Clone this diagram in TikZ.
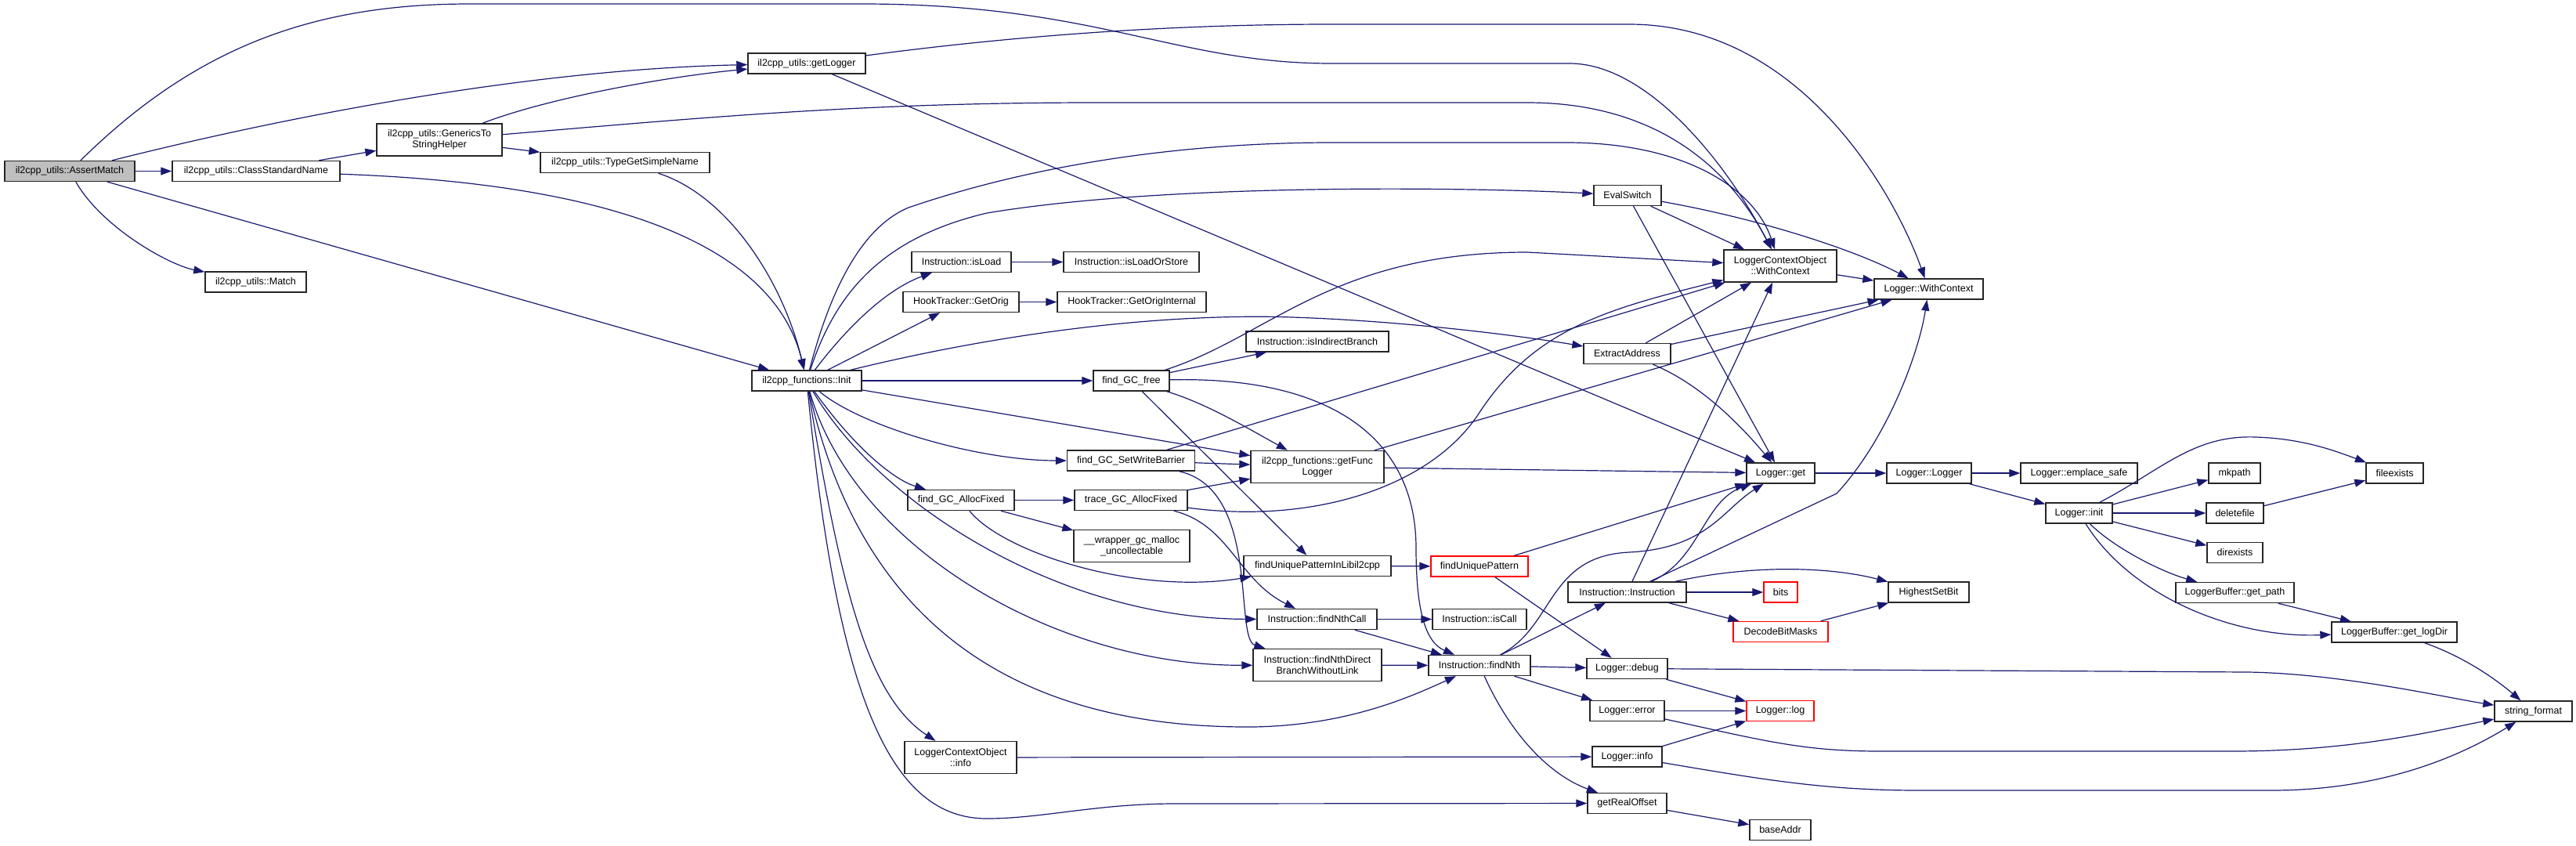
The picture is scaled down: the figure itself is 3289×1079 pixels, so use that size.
\documentclass[tikz,border=0pt]{standalone}
\usepackage{fontspec}
\setmainfont{Liberation Sans}
\usetikzlibrary{arrows.meta}
\definecolor{edgeblue}{RGB}{25,25,112}
\definecolor{focusgray}{RGB}{191,191,191}

\begin{document}
\begin{tikzpicture}[x=1pt, y=-1pt,
		func/.style={rectangle, draw=black!85, line width=1.4pt, fill=white, minimum height=26pt, inner sep=1pt, align=center, font=\fontsize{12.5}{14}\selectfont},
		tall/.style={minimum height=41pt},
		focus/.style={fill=focusgray},
		trunc/.style={draw=red},
		call/.style={-{Triangle[length=14pt, width=10pt]}, draw=edgeblue, line width=1.2pt}
		]
		\useasboundingbox (0,0) rectangle (3289,1079);
		% Functions, column by column
		\node[func, focus, minimum width=166] (assert) at (89,218.5) {il2cpp\_utils::AssertMatch};
		\node[func, minimum width=214] (classname) at (327,218.5) {il2cpp\_utils::ClassStandardName};
		\node[func, minimum width=129] (match) at (326.5,360) {il2cpp\_utils::Match};
		\node[func, tall, minimum width=160] (generics) at (561,178.5) {il2cpp\_utils::GenericsTo\\StringHelper};
		\node[func, minimum width=216] (typename) at (798,207.5) {il2cpp\_utils::TypeGetSimpleName};
		\node[func, minimum width=150] (getlogger) at (1030,81) {il2cpp\_utils::getLogger};
		\node[func, minimum width=140] (init) at (1030,486) {il2cpp\_functions::Init};
		\node[func, minimum width=127] (isload) at (1227.5,334.5) {Instruction::isLoad};
		\node[func, minimum width=148] (getorig) at (1227,385.5) {HookTracker::GetOrig};
		\node[func, minimum width=136] (allocfixed) at (1227,638.5) {find\_GC\_AllocFixed};
		\node[func, tall, minimum width=143] (ctxinfo) at (1226.5,967) {LoggerContextObject\\::info};
		\node[func, minimum width=173] (isloadstore) at (1444.5,334.5) {Instruction::isLoadOrStore};
		\node[func, minimum width=190] (getorigint) at (1445,385.5) {HookTracker::GetOrigInternal};
		\node[func, minimum width=97] (gcfree) at (1444.5,486) {find\_GC\_free};
		\node[func, minimum width=163] (writebarrier) at (1444,588) {find\_GC\_SetWriteBarrier};
		\node[func, minimum width=144] (tracealloc) at (1444,638.5) {trace\_GC\_AllocFixed};
		\node[func, tall, minimum width=148] (wrapper) at (1445,697) {\_\_wrapper\_gc\_malloc\\\_uncollectable};
		\node[func, minimum width=182] (isindirect) at (1682,436) {Instruction::isIndirectBranch};
		\node[func, tall, minimum width=170] (funclogger) at (1682,596) {il2cpp\_functions::getFunc\\Logger};
		\node[func, minimum width=188] (patternlib) at (1682,722.5) {findUniquePatternInLibil2cpp};
		\node[func, minimum width=153] (nthcall) at (1681.5,790.5) {Instruction::findNthCall};
		\node[func, tall, minimum width=164] (nthdirect) at (1682,849) {Instruction::findNthDirect\\BranchWithoutLink};
		\node[func, trunc, minimum width=124] (pattern) at (1889,723) {findUniquePattern};
		\node[func, minimum width=120] (iscall) at (1889,790.5) {Instruction::isCall};
		\node[func, minimum width=130] (findnth) at (1889,849.5) {Instruction::findNth};
		\node[func, minimum width=86] (evalswitch) at (2078,249.5) {EvalSwitch};
		\node[func, minimum width=111] (extract) at (2077.5,451.5) {ExtractAddress};
		\node[func, minimum width=151] (instr) at (2077.5,756) {Instruction::Instruction};
		\node[func, minimum width=103] (ldebug) at (2077.5,853.5) {Logger::debug};
		\node[func, minimum width=95] (lerror) at (2077.5,907.5) {Logger::error};
		\node[func, minimum width=89] (linfo) at (2077.5,966) {Logger::info};
		\node[func, minimum width=101] (realoffset) at (2077.5,1025.5) {getRealOffset};
		\node[func, tall, minimum width=144] (ctxwith) at (2273,339.5) {LoggerContextObject\\::WithContext};
		\node[func, minimum width=87] (lget) at (2273.5,604) {Logger::get};
		\node[func, trunc, minimum width=43] (bits) at (2273.5,756) {bits};
		\node[func, trunc, minimum width=121] (decode) at (2273.5,806.5) {DecodeBitMasks};
		\node[func, trunc, minimum width=86] (llog) at (2273,907.5) {Logger::log};
		\node[func, minimum width=78] (baseaddr) at (2273,1059.5) {baseAddr};
		\node[func, minimum width=139] (lwith) at (2462.5,369) {Logger::WithContext};
		\node[func, minimum width=108] (llogger) at (2463,604) {Logger::Logger};
		\node[func, minimum width=103] (highest) at (2462.5,756) {HighestSetBit};
		\node[func, minimum width=149] (emplace) at (2654.5,604) {Logger::emplace\_safe};
		\node[func, minimum width=85] (linit) at (2654.5,655) {Logger::init};
		\node[func, minimum width=66] (mkpath) at (2853,604) {mkpath};
		\node[func, minimum width=73] (deletefile) at (2853.5,655) {deletefile};
		\node[func, minimum width=71] (direxists) at (2853.5,705.5) {direxists};
		\node[func, minimum width=151] (getpath) at (2853.5,756.5) {LoggerBuffer::get\_path};
		\node[func, minimum width=73] (fileexists) at (3057.5,604) {fileexists};
		\node[func, minimum width=160] (getlogdir) at (3057,807) {LoggerBuffer::get\_logDir};
		\node[func, minimum width=99] (strformat) at (3234.5,908) {string\_format};
		% Straight calls
		\foreach \a/\b in {assert/classname, assert/init, classname/generics, generics/typename,
			getlogger/lget, init/getorig, init/gcfree, init/funclogger, isload/isloadstore,
			getorig/getorigint, evalswitch/ctxwith, evalswitch/lget, extract/ctxwith, extract/lwith,
			gcfree/isindirect, gcfree/patternlib, writebarrier/funclogger, writebarrier/ctxwith,
			allocfixed/tracealloc, allocfixed/wrapper, tracealloc/funclogger, funclogger/lget,
			funclogger/lwith, patternlib/pattern, pattern/lget, pattern/ldebug, instr/ctxwith,
			instr/bits, instr/decode, decode/highest, nthcall/iscall, nthcall/findnth,
			nthdirect/findnth, findnth/instr, findnth/ldebug, findnth/lerror, ldebug/llog,
			lerror/llog, linfo/llog, ctxinfo/linfo, realoffset/baseaddr, ctxwith/lwith,
			lget/llogger, llogger/emplace, llogger/linit, linit/mkpath, linit/deletefile,
			linit/direxists, deletefile/fileexists, getpath/getlogdir} {
			\draw[call] (\a) -- (\b);
		}
		% Curved calls
		\draw[call] (assert) .. controls (130,290) and (215,338) .. (match);
		\draw[call] (assert) .. controls (400,140) and (700,88) .. (getlogger);
		\draw[call] (assert) .. controls (250,60) and (400,5) .. (600,5) -- (1100,5)
			.. controls (1400,5) and (1500,81) .. (1700,81) -- (2004,81)
			.. controls (2100,81) and (2200,200) .. (ctxwith);
		\draw[call] (generics) .. controls (700,125) and (850,98) .. (getlogger);
		\draw[call] (generics) .. controls (900,150) and (1100,131) .. (1400,131) -- (1950,131)
			.. controls (2100,131) and (2200,200) .. (ctxwith);
		\draw[call] (classname) .. controls (800,235) and (990,320) .. (init);
		\draw[call] (typename) .. controls (930,250) and (1000,360) .. (init);
		\draw[call] (getlogger) .. controls (1300,45) and (1500,31) .. (1700,31) -- (2080,31)
			.. controls (2300,31) and (2420,250) .. (lwith);
		\draw[call] (init) .. controls (1060,370) and (1100,290) .. (1160,265)
			.. controls (1350,200) and (1550,182) .. (1700,182) -- (2000,182)
			.. controls (2150,182) and (2240,240) .. (ctxwith);
		\draw[call] (init) .. controls (1065,380) and (1120,305) .. (1260,272)
			.. controls (1500,232) and (1900,240) .. (evalswitch);
		\draw[call] (init) .. controls (1080,420) and (1130,370) .. (isload);
		\draw[call] (init) .. controls (1300,420) and (1500,400) .. (1650,405)
			.. controls (1800,410) and (1950,430) .. (extract);
		\draw[call] (init) .. controls (1100,545) and (1250,588) .. (writebarrier);
		\draw[call] (init) .. controls (1090,570) and (1140,612) .. (allocfixed);
		\draw[call] (init) .. controls (1120,640) and (1350,790) .. (nthcall);
		\draw[call] (init) .. controls (1090,700) and (1350,850) .. (nthdirect);
		\draw[call] (init) .. controls (1100,800) and (1300,930) .. (1600,928)
			.. controls (1720,926) and (1800,890) .. (findnth);
		\draw[call] (init) .. controls (1075,760) and (1110,890) .. (ctxinfo);
		\draw[call] (init) .. controls (1070,900) and (1140,1045) .. (1260,1045)
			.. controls (1330,1045) and (1400,1026) .. (1500,1026) -- (realoffset);
		\draw[call] (evalswitch) .. controls (2250,280) and (2370,320) .. (lwith);
		\draw[call] (extract) .. controls (2170,490) and (2220,540) .. (lget);
		\draw[call] (gcfree) .. controls (1620,430) and (1700,322) .. (1950,322) -- (ctxwith);
		\draw[call] (gcfree) .. controls (1540,515) and (1590,545) .. (funclogger);
		\draw[call] (gcfree) .. controls (1700,480) and (1808,560) .. (1808,700)
			.. controls (1808,780) and (1820,820) .. (findnth);
		\draw[call] (writebarrier) .. controls (1610,625) and (1575,815) .. (nthdirect);
		\draw[call] (allocfixed) .. controls (1280,705) and (1450,760) .. (patternlib);
		\draw[call] (tracealloc) .. controls (1680,670) and (1830,620) .. (1890,525)
			.. controls (1960,420) and (2050,395) .. (ctxwith);
		\draw[call] (tracealloc) .. controls (1570,670) and (1580,740) .. (nthcall);
		\draw[call] (instr) .. controls (2170,715) and (2175,640) .. (lget);
		\draw[call] (instr) -- (2345,630) .. controls (2410,560) and (2450,450) .. (lwith);
		\draw[call] (instr) .. controls (2230,722) and (2330,722) .. (highest);
		\draw[call] (findnth) .. controls (1985,800) and (1975,710) .. (2080,705)
			.. controls (2180,700) and (2200,650) .. (lget);
		\draw[call] (findnth) .. controls (1930,940) and (1980,990) .. (realoffset);
		\draw[call] (ldebug) -- (2870,858) .. controls (2990,860) and (3120,890) .. (strformat);
		\draw[call] (lerror) .. controls (2250,945) and (2300,959) .. (2400,959) -- (2850,959)
			.. controls (3000,959) and (3100,935) .. (strformat);
		\draw[call] (linfo) .. controls (2250,995) and (2330,1009) .. (2450,1009) -- (2900,1009)
			.. controls (3050,1009) and (3150,960) .. (strformat);
		\draw[call] (linit) .. controls (2760,600) and (2800,555) .. (2880,558)
			.. controls (2940,560) and (2980,575) .. (fileexists);
		\draw[call] (linit) .. controls (2700,700) and (2760,730) .. (getpath);
		\draw[call] (linit) .. controls (2720,760) and (2850,815) .. (getlogdir);
		\draw[call] (getlogdir) .. controls (3150,840) and (3190,870) .. (strformat);
	\end{tikzpicture}
\end{document}
